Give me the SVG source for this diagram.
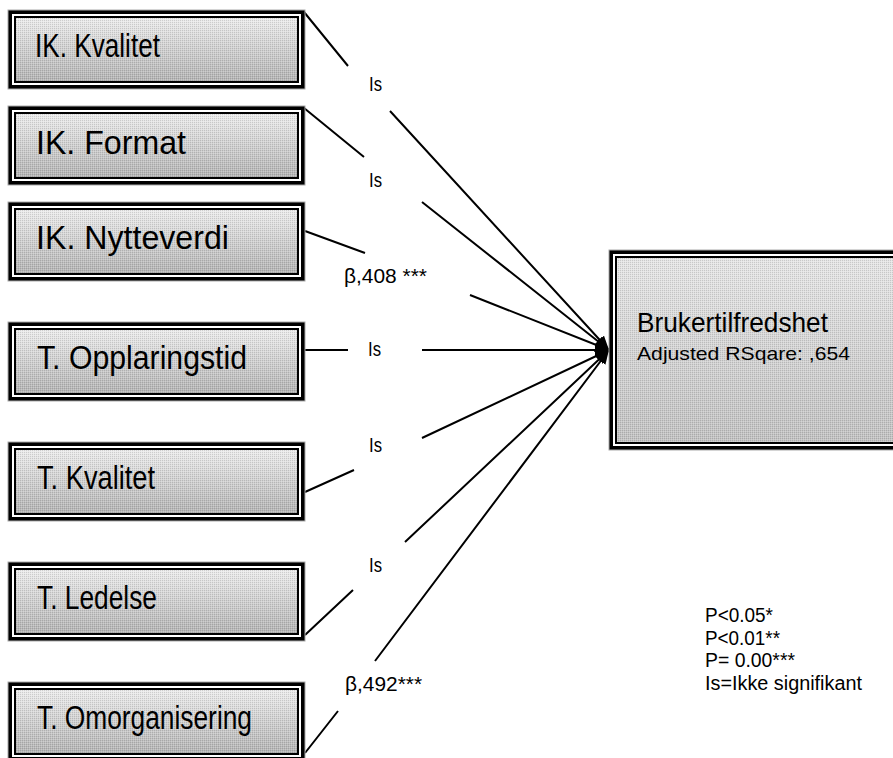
<svg xmlns="http://www.w3.org/2000/svg" width="893" height="758" viewBox="0 0 893 758">
<style>
.lbl{font-family:"Liberation Sans",Arial,sans-serif;fill:#000}
.box{font-size:33px}
.edge{font-size:20px}
.conn{fill:none;stroke:#000;stroke-width:2}
.outer{fill:#000;stroke:#aaa;stroke-width:1}
.gap{fill:#fff}
.inner{fill:#000}
.fill{fill:url(#grad)}
.dots{fill:url(#dither)}
</style>
<defs>
<linearGradient id="grad" x1="0" y1="0" x2="0" y2="1">
<stop offset="0" stop-color="#ececec"/>
<stop offset="1" stop-color="#b4b4b4"/>
</linearGradient>
<linearGradient id="gradBig" x1="0" y1="0" x2="0" y2="1">
<stop offset="0" stop-color="#e6e6e6"/>
<stop offset="1" stop-color="#c2c2c2"/>
</linearGradient>
<pattern id="dither" width="2" height="2" patternUnits="userSpaceOnUse">
<rect x="0" y="0" width="1" height="1" fill="#000" fill-opacity="0.12"/>
<rect x="1" y="1" width="1" height="1" fill="#fff" fill-opacity="0.25"/>
</pattern>
<marker id="arr" markerUnits="userSpaceOnUse" markerWidth="16" markerHeight="12" refX="14" refY="6" orient="auto">
<path d="M0,0 L14,6 L0,12 z" fill="#000"/>
</marker>
</defs>
<rect width="893" height="758" fill="#fff"/>

<g id="connectors">
<path class="conn" d="M304,12 L348,66 M390,111 L609,350" marker-end="url(#arr)"/>
<path class="conn" d="M304,108 L364,157 M422,202 L609,350" marker-end="url(#arr)"/>
<path class="conn" d="M305,231 L365,253 M470,295 L609,350" marker-end="url(#arr)"/>
<path class="conn" d="M305,350 L348,350 M422,350 L609,350" marker-end="url(#arr)"/>
<path class="conn" d="M305,492 L354,470 M422,438 L609,350" marker-end="url(#arr)"/>
<path class="conn" d="M305,635 L353,590 M405,542 L609,350" marker-end="url(#arr)"/>
<path class="conn" d="M305,753 L338,711 M375,661 L609,350" marker-end="url(#arr)"/>
<text class="lbl edge" x="369" y="91" textLength="13" lengthAdjust="spacingAndGlyphs">Is</text>
<text class="lbl edge" x="369" y="187" textLength="13" lengthAdjust="spacingAndGlyphs">Is</text>
<text class="lbl edge" x="344" y="283" textLength="83" lengthAdjust="spacingAndGlyphs">β,408 ***</text>
<text class="lbl edge" x="368" y="356" textLength="13" lengthAdjust="spacingAndGlyphs">Is</text>
<text class="lbl edge" x="369" y="452" textLength="13" lengthAdjust="spacingAndGlyphs">Is</text>
<text class="lbl edge" x="369" y="572" textLength="13" lengthAdjust="spacingAndGlyphs">Is</text>
<text class="lbl edge" x="345" y="691" textLength="77" lengthAdjust="spacingAndGlyphs">β,492***</text>
</g>

<g id="n1">
<rect class="outer" x="8" y="10" width="297" height="79"/>
<rect class="gap" x="12" y="14" width="289" height="71"/>
<rect class="inner" x="14" y="16" width="285" height="67"/>
<rect class="fill" x="16" y="18" width="281" height="63"/>
<rect class="dots" x="16" y="18" width="281" height="63"/>
<text class="lbl box" x="35" y="57" textLength="125" lengthAdjust="spacingAndGlyphs">IK. Kvalitet</text>
</g>
<g id="n2">
<rect class="outer" x="8" y="106" width="297" height="79"/>
<rect class="gap" x="12" y="110" width="289" height="71"/>
<rect class="inner" x="14" y="112" width="285" height="67"/>
<rect class="fill" x="16" y="114" width="281" height="63"/>
<rect class="dots" x="16" y="114" width="281" height="63"/>
<text class="lbl box" x="36" y="154" textLength="150" lengthAdjust="spacingAndGlyphs">IK. Format</text>
</g>
<g id="n3">
<rect class="outer" x="8" y="202" width="297" height="79"/>
<rect class="gap" x="12" y="206" width="289" height="71"/>
<rect class="inner" x="14" y="208" width="285" height="67"/>
<rect class="fill" x="16" y="210" width="281" height="63"/>
<rect class="dots" x="16" y="210" width="281" height="63"/>
<text class="lbl box" x="36" y="249" textLength="193" lengthAdjust="spacingAndGlyphs">IK. Nytteverdi</text>
</g>
<g id="n4">
<rect class="outer" x="8" y="322" width="297" height="79"/>
<rect class="gap" x="12" y="326" width="289" height="71"/>
<rect class="inner" x="14" y="328" width="285" height="67"/>
<rect class="fill" x="16" y="330" width="281" height="63"/>
<rect class="dots" x="16" y="330" width="281" height="63"/>
<text class="lbl box" x="37" y="369" textLength="210" lengthAdjust="spacingAndGlyphs">T. Opplaringstid</text>
</g>
<g id="n5">
<rect class="outer" x="8" y="442" width="297" height="79"/>
<rect class="gap" x="12" y="446" width="289" height="71"/>
<rect class="inner" x="14" y="448" width="285" height="67"/>
<rect class="fill" x="16" y="450" width="281" height="63"/>
<rect class="dots" x="16" y="450" width="281" height="63"/>
<text class="lbl box" x="37" y="489" textLength="118" lengthAdjust="spacingAndGlyphs">T. Kvalitet</text>
</g>
<g id="n6">
<rect class="outer" x="8" y="562" width="297" height="79"/>
<rect class="gap" x="12" y="566" width="289" height="71"/>
<rect class="inner" x="14" y="568" width="285" height="67"/>
<rect class="fill" x="16" y="570" width="281" height="63"/>
<rect class="dots" x="16" y="570" width="281" height="63"/>
<text class="lbl box" x="37" y="609" textLength="120" lengthAdjust="spacingAndGlyphs">T. Ledelse</text>
</g>
<g id="n7">
<rect class="outer" x="8" y="682" width="297" height="79"/>
<rect class="gap" x="12" y="686" width="289" height="71"/>
<rect class="inner" x="14" y="688" width="285" height="67"/>
<rect class="fill" x="16" y="690" width="281" height="63"/>
<rect class="dots" x="16" y="690" width="281" height="63"/>
<text class="lbl box" x="37" y="729" textLength="215" lengthAdjust="spacingAndGlyphs">T. Omorganisering</text>
</g>

<g id="target">
<rect class="outer" x="609" y="250" width="300" height="200"/>
<rect class="gap" x="613" y="254" width="296" height="192"/>
<rect class="inner" x="615" y="256" width="294" height="188"/>
<rect fill="url(#gradBig)" x="617" y="258" width="292" height="184"/>
<rect class="dots" x="617" y="258" width="292" height="184"/>
<text class="lbl" x="637" y="332" font-size="28" textLength="191" lengthAdjust="spacingAndGlyphs">Brukertilfredshet</text>
<text class="lbl" x="637" y="360" font-size="19" textLength="213" lengthAdjust="spacingAndGlyphs">Adjusted RSqare: ,654</text>
</g>

<g id="legend">
<text class="lbl edge" x="705" y="622" textLength="68" lengthAdjust="spacingAndGlyphs">P&lt;0.05*</text>
<text class="lbl edge" x="705" y="645" textLength="75" lengthAdjust="spacingAndGlyphs">P&lt;0.01**</text>
<text class="lbl edge" x="705" y="667" textLength="90" lengthAdjust="spacingAndGlyphs">P= 0.00***</text>
<text class="lbl edge" x="705" y="690" textLength="157" lengthAdjust="spacingAndGlyphs">Is=Ikke signifikant</text>
</g>
</svg>
